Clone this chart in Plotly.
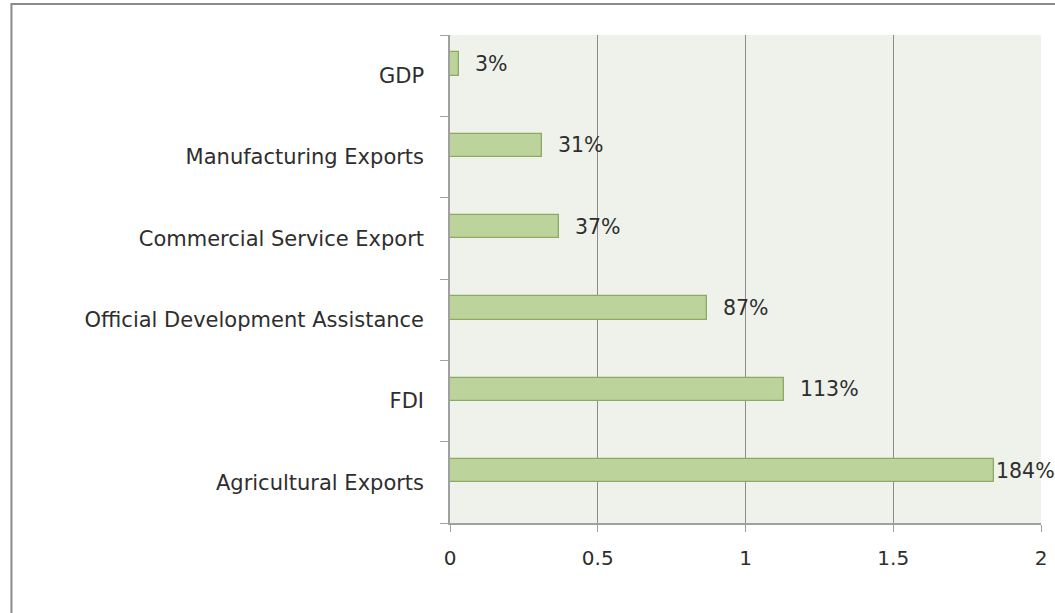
import plotly.graph_objects as go

# Categories listed bottom-to-top (Plotly puts the first category at the bottom)
categories = [
    "Agricultural Exports",
    "FDI",
    "Official Development Assistance",
    "Commercial Service Export",
    "Manufacturing Exports",
    "GDP",
]
growth = [1.84, 1.13, 0.87, 0.37, 0.31, 0.03]
x_ticks = [0, 0.5, 1, 1.5, 2]
x_tick_labels = ["0", "0.5", "1", "1.5", "2"]

FONT = "'DejaVu Sans', 'Open Sans', sans-serif"
TEXT = "#2E2E2E"

# Excel-style clustered layout: two series slots with a 150% gap -> bar width 1/3.5
bar_w = 1 / 3.5

fig = go.Figure()
fig.add_trace(go.Bar(
    x=growth,
    y=categories,
    orientation="h",
    width=bar_w,
    offset=0,
    marker=dict(color="#BCD39B", line=dict(color="#8DAA62", width=1.3)),
    hoverinfo="x+y",
))

# value labels placed just past the end of each bar
annotations = []
for cat, v in zip(categories, growth):
    annotations.append(dict(
        x=v, y=cat, xref="x", yref="y",
        text=f"{v:.0%}",
        showarrow=False,
        xanchor="left", yanchor="middle",
        xshift=14 if v < 1.8 else 0,
        yshift=11.6,
        font=dict(family=FONT, size=20.5, color=TEXT),
    ))

fig.update_layout(
    width=1055, height=613,
    margin=dict(l=450, r=8, t=35, b=90),
    paper_bgcolor="white",
    plot_bgcolor="#EEF2EA",
    showlegend=False,
    bargap=0,
    annotations=annotations,
    shapes=[
        # chart frame (left and top edges visible)
        dict(type="rect", xref="paper", yref="paper",
             x0=(7 - 450) / 597, x1=1.1, y0=-0.3, y1=1 + 31 / 488,
             line=dict(color="#8A8A8A", width=2), layer="below"),
    ],
)

fig.update_xaxes(
    range=[0, 2],
    tickvals=x_ticks, ticktext=x_tick_labels,
    showgrid=True, gridcolor="#8C8C8C", gridwidth=1,
    showline=True, linecolor="#A0A0A0", linewidth=1.5,
    ticks="outside", ticklen=7, tickcolor="#A0A0A0",
    ticklabelstandoff=9,
    zeroline=False,
    tickfont=dict(family=FONT, size=20, color=TEXT),
)
fig.update_yaxes(
    categoryorder="array", categoryarray=categories,
    range=[-0.5, len(categories) - 0.5],
    showgrid=False,
    showline=True, linecolor="#A0A0A0", linewidth=1.5,
    ticks="outside", ticklen=8, tickcolor="#A0A0A0",
    tickson="boundaries",
    ticklabelstandoff=20,
    tickfont=dict(family=FONT, size=21, color=TEXT),
)

fig.write_html("out.html")
